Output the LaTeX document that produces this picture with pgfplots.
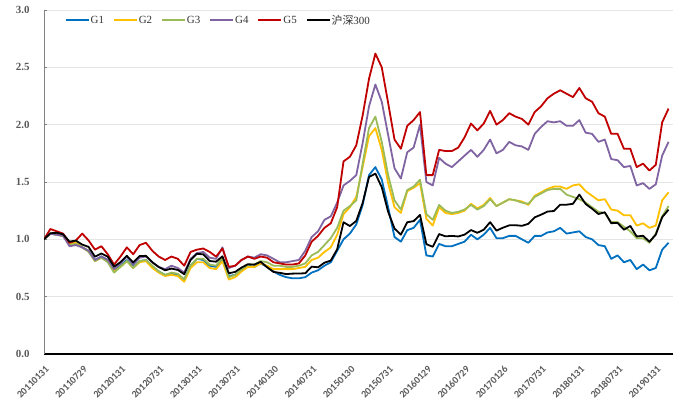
\documentclass[border=0pt]{standalone}
\usepackage{pgfplots}
\pgfplotsset{compat=1.18}
\usepackage{pgfplotstable}
\usepackage{fontspec}
\setmainfont{Liberation Serif}
\newfontfamily\cjk{Noto Sans CJK SC}
\newfontfamily\carlito{Carlito}
\definecolor{cG1}{HTML}{0070C0}
\definecolor{cG2}{HTML}{FFC000}
\definecolor{cG3}{HTML}{9BBB59}
\definecolor{cG4}{HTML}{8064A2}
\definecolor{cG5}{HTML}{C00000}
\definecolor{txt}{HTML}{595959}
\pgfplotstableread{
i G1 G2 G3 G4 G5 HS
0 1.00 1.00 1.00 1.00 1.00 1.000
1 1.05 1.05 1.05 1.05 1.09 1.053
2 1.04 1.04 1.04 1.04 1.07 1.057
3 1.03 1.03 1.03 1.03 1.05 1.044
4 0.96 0.96 0.95 0.94 0.97 0.980
5 0.97 0.97 0.96 0.95 0.99 0.989
6 0.93 0.93 0.93 0.93 1.05 0.954
7 0.90 0.90 0.89 0.90 0.99 0.934
8 0.82 0.81 0.81 0.82 0.91 0.849
9 0.85 0.84 0.84 0.85 0.94 0.876
10 0.82 0.81 0.80 0.82 0.87 0.849
11 0.73 0.72 0.71 0.74 0.78 0.762
12 0.77 0.76 0.76 0.79 0.85 0.801
13 0.82 0.81 0.81 0.85 0.93 0.856
14 0.76 0.75 0.75 0.78 0.87 0.798
15 0.81 0.80 0.81 0.84 0.95 0.854
16 0.82 0.81 0.82 0.85 0.97 0.856
17 0.76 0.75 0.77 0.80 0.90 0.800
18 0.72 0.71 0.72 0.76 0.85 0.758
19 0.69 0.68 0.69 0.74 0.82 0.730
20 0.70 0.69 0.71 0.77 0.85 0.745
21 0.69 0.68 0.70 0.75 0.83 0.733
22 0.65 0.63 0.65 0.71 0.77 0.696
23 0.77 0.75 0.77 0.83 0.89 0.820
24 0.83 0.80 0.83 0.88 0.91 0.874
25 0.82 0.80 0.83 0.89 0.92 0.869
26 0.77 0.75 0.78 0.84 0.89 0.811
27 0.76 0.74 0.77 0.83 0.85 0.805
28 0.83 0.81 0.84 0.93 0.92 0.852
29 0.68 0.65 0.67 0.75 0.76 0.704
30 0.69 0.67 0.69 0.77 0.77 0.716
31 0.73 0.72 0.74 0.82 0.82 0.754
32 0.77 0.76 0.78 0.85 0.85 0.783
33 0.76 0.76 0.78 0.84 0.83 0.779
34 0.79 0.79 0.81 0.87 0.85 0.804
35 0.76 0.77 0.80 0.86 0.84 0.757
36 0.72 0.74 0.77 0.83 0.80 0.716
37 0.69 0.74 0.77 0.80 0.79 0.708
38 0.67 0.74 0.76 0.80 0.78 0.697
39 0.66 0.74 0.76 0.81 0.78 0.701
40 0.66 0.75 0.77 0.82 0.79 0.702
41 0.67 0.76 0.79 0.90 0.86 0.704
42 0.71 0.82 0.86 1.02 0.98 0.762
43 0.73 0.84 0.89 1.07 1.03 0.756
44 0.77 0.89 0.95 1.17 1.10 0.796
45 0.80 0.93 1.01 1.20 1.14 0.815
46 0.90 1.04 1.10 1.32 1.28 0.913
47 1.00 1.22 1.25 1.47 1.68 1.149
48 1.05 1.28 1.29 1.51 1.72 1.116
49 1.13 1.37 1.34 1.56 1.82 1.161
50 1.30 1.63 1.66 1.84 2.08 1.317
51 1.56 1.90 1.97 2.16 2.40 1.544
52 1.63 1.97 2.07 2.35 2.62 1.573
53 1.52 1.78 1.85 2.20 2.50 1.454
54 1.28 1.49 1.56 1.91 2.19 1.240
55 1.02 1.28 1.34 1.62 1.87 1.094
56 0.98 1.23 1.26 1.53 1.79 1.041
57 1.08 1.42 1.43 1.76 1.99 1.149
58 1.10 1.45 1.46 1.80 2.04 1.159
59 1.17 1.49 1.52 2.00 2.11 1.213
60 0.86 1.18 1.22 1.50 1.56 0.958
61 0.85 1.12 1.17 1.47 1.56 0.935
62 0.96 1.28 1.30 1.71 1.78 1.046
63 0.94 1.23 1.25 1.66 1.77 1.026
64 0.94 1.22 1.23 1.63 1.77 1.030
65 0.96 1.23 1.24 1.68 1.80 1.025
66 0.98 1.25 1.26 1.73 1.89 1.041
67 1.04 1.31 1.30 1.78 2.01 1.081
68 1.00 1.27 1.26 1.72 1.95 1.057
69 1.04 1.30 1.29 1.78 2.01 1.084
70 1.10 1.36 1.35 1.87 2.12 1.150
71 1.01 1.29 1.29 1.75 2.00 1.076
72 1.01 1.32 1.32 1.78 2.04 1.101
73 1.03 1.35 1.35 1.85 2.10 1.122
74 1.03 1.34 1.34 1.82 2.07 1.123
75 1.00 1.33 1.32 1.81 2.05 1.118
76 0.97 1.30 1.31 1.78 2.00 1.135
77 1.03 1.38 1.37 1.92 2.11 1.192
78 1.03 1.41 1.40 1.98 2.16 1.215
79 1.06 1.44 1.43 2.03 2.23 1.242
80 1.07 1.46 1.44 2.02 2.27 1.247
81 1.10 1.46 1.44 2.03 2.30 1.302
82 1.05 1.44 1.39 1.99 2.27 1.302
83 1.06 1.47 1.37 1.99 2.24 1.310
84 1.07 1.48 1.35 2.04 2.32 1.390
85 1.02 1.42 1.32 1.93 2.23 1.308
86 1.00 1.38 1.28 1.92 2.20 1.267
87 0.95 1.34 1.24 1.85 2.10 1.221
88 0.94 1.35 1.23 1.87 2.07 1.236
89 0.83 1.26 1.15 1.70 1.92 1.141
90 0.86 1.25 1.15 1.69 1.92 1.143
91 0.80 1.21 1.11 1.63 1.79 1.084
92 0.82 1.21 1.07 1.64 1.79 1.117
93 0.74 1.12 1.01 1.47 1.63 1.025
94 0.78 1.14 1.01 1.49 1.66 1.031
95 0.73 1.10 0.97 1.44 1.60 0.979
96 0.75 1.12 1.05 1.48 1.65 1.041
97 0.91 1.34 1.20 1.73 2.02 1.193
98 0.97 1.41 1.29 1.85 2.14 1.259
}\data
\begin{document}
\begin{tikzpicture}
\begin{axis}[
  scale only axis, width=629bp, height=344bp,
  xmin=0, xmax=98.7, ymin=0, ymax=3,
  axis lines*=left,
  x axis line style={black, line width=1.3bp},
  y axis line style={gray, line width=0.8bp},
  ymajorgrids, grid style={black!10, line width=0.6bp},
  ytick={0,0.5,...,3},
  ytick style={gray, line width=0.8bp},
  major tick length=3bp, tick align=inside,
  xtick={0,6,...,96},
  xtick style={draw=none},
  xticklabels={20110131,20110729,20120131,20120731,20130131,20130731,20140130,20140731,20150130,20150731,20160129,20160729,20170126,20170731,20180131,20180731,20190131},
  xticklabel style={xshift=4bp, yshift=-13bp, rotate=45, anchor=east, font=\carlito\bfseries\fontsize{10}{11}\selectfont, text=txt, inner sep=1bp},
  yticklabel style={xshift=-11bp, font=\bfseries\fontsize{11}{12}\selectfont, text=txt},
  y tick label style={/pgf/number format/fixed, /pgf/number format/fixed zerofill, /pgf/number format/precision=1, /pgf/number format/assume math mode=true},
  every axis plot/.append style={line width=1.8bp, mark=none, line join=round},
  legend style={at={(0.028,0.995)}, anchor=north west, draw=none, fill=none, legend columns=-1, font=\fontsize{11}{12}\selectfont, text=black!80, /tikz/every even column/.append style={column sep=8bp}, nodes={inner sep=1bp}},
  legend image code/.code={\draw[#1] (0bp,0bp) -- (23bp,0bp);},
]
\addplot[cG1] table[x=i,y=G1]{\data};
\addplot[cG2] table[x=i,y=G2]{\data};
\addplot[cG3] table[x=i,y=G3]{\data};
\addplot[cG4] table[x=i,y=G4]{\data};
\addplot[cG5] table[x=i,y=G5]{\data};
\addplot[black] table[x=i,y=HS]{\data};
\legend{G1,G2,G3,G4,G5,{\cjk 沪深}300}
\end{axis}
\path (current axis.south west) ++(-44bp,-60bp) rectangle ++(681bp,414bp);
\end{tikzpicture}
\end{document}
